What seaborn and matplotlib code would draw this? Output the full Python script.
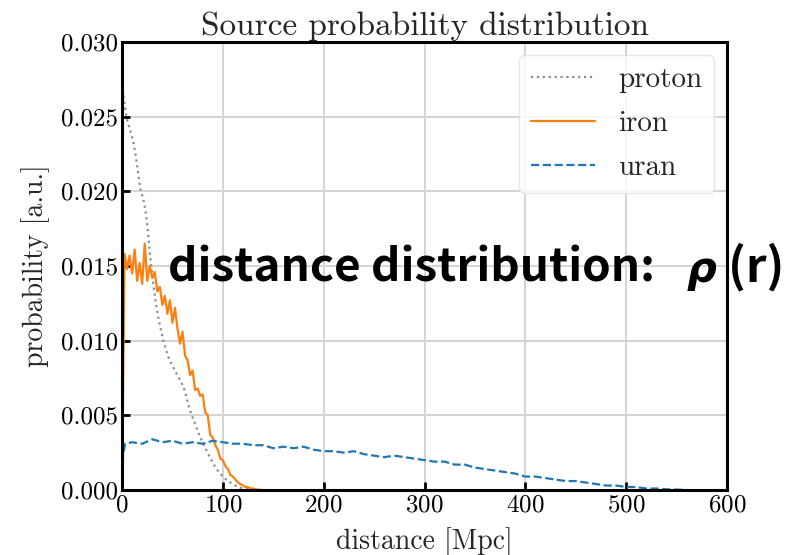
import matplotlib
matplotlib.use("Agg")
import matplotlib.pyplot as plt
import numpy as np
import pandas as pd
import seaborn as sns

# distance [Mpc] / probability values
proton_x = [0, 1, 3, 5, 8, 11, 14, 18, 21, 23, 25, 28, 31, 34, 37, 41, 44, 47, 51, 54,
            58, 61, 64, 67, 72, 77, 82, 87, 92, 96, 100, 105, 110, 115, 120, 125, 130]
proton_y = [0.0, 0.0266, 0.0256, 0.0248, 0.0241, 0.0234, 0.0222, 0.0202, 0.0195, 0.0188,
            0.0178, 0.0156, 0.0138, 0.0123, 0.0112, 0.0100, 0.0093, 0.0087, 0.0082, 0.0078,
            0.0073, 0.0069, 0.0062, 0.0054, 0.0045, 0.0036, 0.0029, 0.0022, 0.0016, 0.0012,
            0.0009, 0.0006, 0.0004, 0.0002, 0.0001, 0.00005, 0.0]

iron_x = [0, 2.5, 5, 7.5, 10, 12.5, 15, 17.5, 20, 22.5, 25, 27.5, 30, 32.5, 35, 37.5,
          40, 42.5, 45, 47.5, 50, 52.5, 55, 57.5, 60, 62.5, 65, 67.5, 70, 72.5, 75, 77.5,
          80, 82.5, 85, 87.5, 90, 92.5, 95, 97.5, 100, 102.5, 105, 107.5, 110, 112.5, 115,
          117.5, 120, 122.5, 125, 127.5, 130, 132.5, 135, 137.5, 140]
iron_y = [0.0, 0.0158, 0.0148, 0.0157, 0.0145, 0.0161, 0.0140, 0.0152, 0.0138, 0.0165,
          0.0140, 0.0150, 0.0142, 0.0146, 0.0133, 0.0136, 0.0124, 0.0130, 0.0118, 0.0127,
          0.0112, 0.0122, 0.0108, 0.0098, 0.0106, 0.0090, 0.0087, 0.0077, 0.0080, 0.0067,
          0.0068, 0.0063, 0.0064, 0.0052, 0.0050, 0.0037, 0.0035, 0.0030, 0.0027, 0.0021,
          0.0020, 0.0016, 0.0014, 0.0010, 0.0009, 0.0007, 0.0005, 0.0004, 0.0003, 0.0002,
          0.0002, 0.0001, 0.0001, 0.00005, 0.00003, 0.00001, 0.0]

uran_x = [0, 3, 10, 20, 30, 40, 50, 60, 70, 80, 90, 100, 110, 120, 130, 140, 150, 160,
          170, 180, 190, 200, 210, 220, 230, 240, 250, 260, 270, 280, 290, 300, 310, 320,
          330, 340, 350, 360, 370, 380, 390, 400, 410, 420, 430, 440, 450, 460, 470, 480,
          490, 500, 510, 520, 530, 540, 550, 560]
uran_y = [0.0018, 0.0031, 0.0032, 0.0031, 0.0034, 0.0032, 0.0033, 0.0031, 0.0032, 0.0031,
          0.0033, 0.0032, 0.0031, 0.0031, 0.0030, 0.0030, 0.0028, 0.0029, 0.0028, 0.0029,
          0.0027, 0.0026, 0.0026, 0.0025, 0.0026, 0.0024, 0.0023, 0.0022, 0.0023, 0.0022,
          0.0021, 0.0020, 0.0019, 0.0019, 0.0017, 0.0017, 0.0015, 0.0014, 0.0013, 0.0012,
          0.0011, 0.0009, 0.0009, 0.0008, 0.0007, 0.0006, 0.0006, 0.0005, 0.0004, 0.0003,
          0.0003, 0.0002, 0.0002, 0.0001, 0.0001, 0.00005, 0.00003, 0.0]

x_ticks = [0, 100, 200, 300, 400, 500, 600]
y_ticks = [0.000, 0.005, 0.010, 0.015, 0.020, 0.025, 0.030]

sns.set_style("whitegrid")
plt.rcParams["font.family"] = "serif"
plt.rcParams["font.serif"] = ["cmr10"]
plt.rcParams["axes.formatter.use_mathtext"] = True

fig = plt.figure(figsize=(7.94, 5.55), dpi=100)
ax = fig.add_axes([0.1537, 0.1171, 0.7619, 0.8072])

sns.lineplot(x=proton_x, y=proton_y, ax=ax, color="#8c8c8c", linestyle=":", linewidth=1.6,
             label="proton", sort=False)
sns.lineplot(x=iron_x, y=iron_y, ax=ax, color="#ff7f0e", linestyle="-", linewidth=1.6,
             label="iron", sort=False)
sns.lineplot(x=uran_x, y=uran_y, ax=ax, color="#1f77b4", linestyle="--", linewidth=1.6,
             label="uran", sort=False)

ax.set_xlim(0, 600)
ax.set_ylim(0, 0.030)
ax.set_xticks(x_ticks)
ax.set_yticks(y_ticks)
ax.set_yticklabels([f"{v:.3f}" for v in y_ticks])
ax.grid(True, color="#d4d4d4", linewidth=1.4)
for s in ax.spines.values():
    s.set_color("black")
    s.set_linewidth(2.2)
ax.tick_params(direction="in", length=6, width=2, labelsize=18, colors="black",
               left=True, bottom=True, pad=3)

ax.set_title("Source probability distribution", fontsize=24, pad=5)
ax.set_xlabel("distance [Mpc]", fontsize=20, labelpad=8)
ax.set_ylabel("probability [a.u.]", fontsize=20, labelpad=8)

ax.legend(loc="upper right", fontsize=21, frameon=True, framealpha=0.8,
          edgecolor="#e0e0e0", handlelength=2.2, borderaxespad=0.45, labelspacing=0.6)

fig.text(0.2116, 0.492, "distance distribution:", fontsize=33, fontweight="bold",
         family=["Noto Sans CJK JP", "DejaVu Sans"], color="black", va="baseline")
fig.text(0.865, 0.492, "ρ", fontsize=30, fontweight="bold", fontstyle="italic",
         family="DejaVu Sans", color="black", va="baseline")
fig.text(0.917, 0.492, "(r)", fontsize=34, fontweight="bold",
         family=["Noto Sans CJK JP", "DejaVu Sans"], color="black", va="baseline")

fig.savefig("out.png", dpi=100)
